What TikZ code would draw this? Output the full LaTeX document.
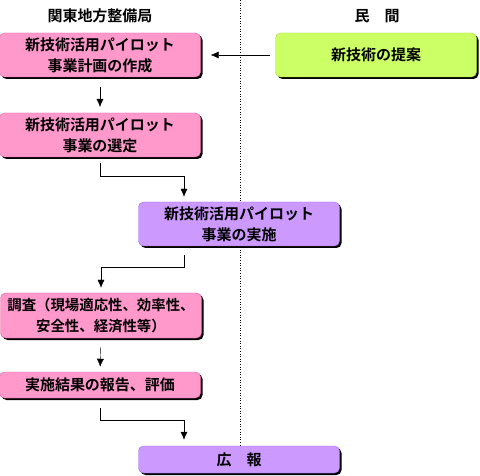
\documentclass[tikz,border=0pt]{standalone}
\usepackage{fontspec}
\setmainfont{Noto Sans CJK JP}[BoldFont=* Bold]
\usetikzlibrary{arrows.meta,shadows}
\definecolor{pinkbox}{HTML}{FF99CC}
\definecolor{pinkline}{HTML}{E0609F}
\definecolor{greenbox}{HTML}{CCFF66}
\definecolor{greenline}{HTML}{A8D840}
\definecolor{purplebox}{HTML}{CC99FF}
\definecolor{purpleline}{HTML}{A070E0}
\begin{document}
\begin{tikzpicture}[x=1pt,y=-1pt,>={Latex[length=8pt,width=7pt]},
  font=\fontsize{15pt}{21pt}\selectfont\bfseries,
  box/.style={rectangle,rounded corners=5pt,minimum width=201pt,inner sep=0pt,align=center,
    drop shadow={shadow xshift=2pt,shadow yshift=-2pt,fill=black,opacity=1}},
  bureau/.style={box,fill=pinkbox,draw=pinkline,minimum height=44pt},
  private/.style={box,fill=greenbox,draw=greenline,minimum height=44pt},
  joint/.style={box,fill=purplebox,draw=purpleline,minimum height=44pt},
  head/.style={inner sep=0pt}]
\useasboundingbox (0,0) rectangle (480,476);
\coordinate (divtop) at (240,0);
\coordinate (divbot) at (240,446);
\draw[dotted,semithick] (divtop)--(divbot);

\node[head] (bureauhead) at (100,16) {関東地方整備局};
\node[head] (privatehead) at (377,16) {民　間};

\node[private] (idea) at (376,55) {新技術の提案};
\node[bureau] (plan) at (100,55) {新技術活用パイロット\\事業計画の作成};
\draw[->,shorten <=5pt,shorten >=10pt] (idea.west)--(plan.east);

\node[bureau] (select) at (100,135) {新技術活用パイロット\\事業の選定};
\draw[->,shorten <=10pt,shorten >=6pt] (plan.south)--(select.south |- 0,113);

\node[joint] (run) at (239,224) {新技術活用パイロット\\事業の実施};
\coordinate (bendA) at (184,176);
\draw[->,shorten <=6pt,shorten >=5pt] (select.south) |- (bendA)--(bendA |- run.north);

\node[bureau,minimum height=45pt,font=\fontsize{14.4pt}{21pt}\selectfont\bfseries] (survey) at (101,315.5) {調査（現場適応性、効率性、\\安全性、経済性等）};
\coordinate (bendB) at (184,267);
\draw[->,shorten <=9pt,shorten >=5pt] (bendB |- run.south)--(bendB) -| (survey.north);

\node[bureau,minimum height=26pt] (report) at (100,385) {実施結果の報告、評価};
\draw[->,shorten <=9pt,shorten >=5pt] (survey.south)--(report.north);

\node[joint,minimum height=27pt] (pr) at (239,459.5) {広　報};
\coordinate (bendC) at (184,420);
\draw[->,shorten <=10pt,shorten >=6pt] (report.south) |- (bendC)--(bendC |- pr.north);
\end{tikzpicture}
\end{document}
